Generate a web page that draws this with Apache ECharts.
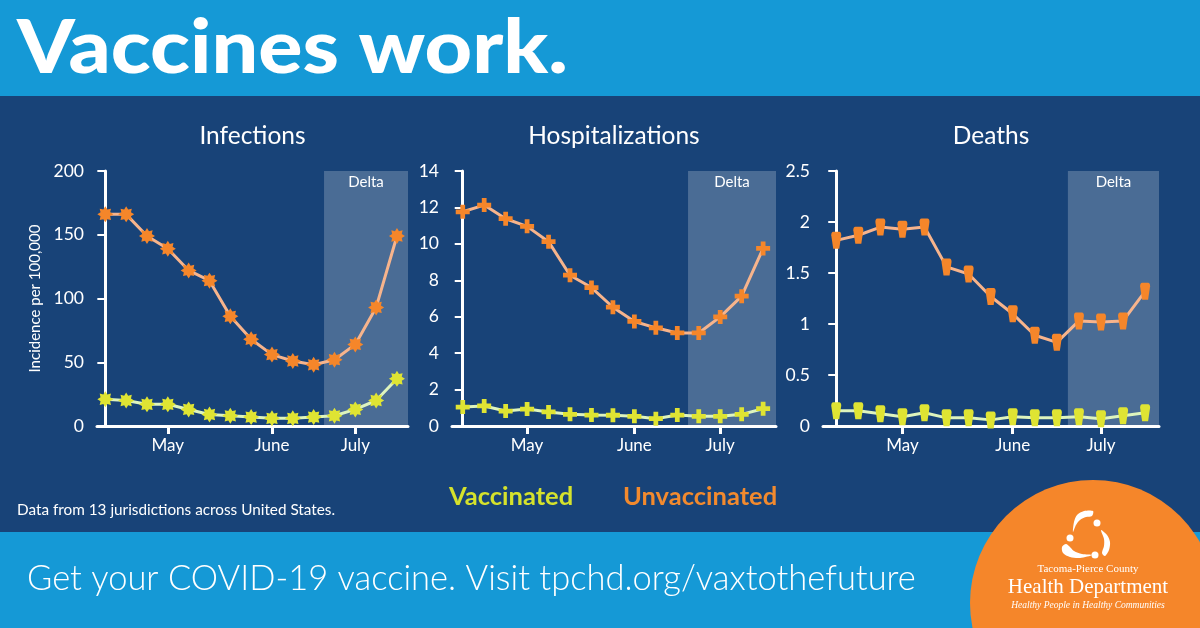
<!DOCTYPE html>
<html>
<head>
<meta charset="utf-8">
<script src="https://cdn.jsdelivr.net/npm/echarts@6/dist/echarts.min.js"></script>
<style>
* {margin: 0; padding: 0;}
#main {width: 1200px; height: 628px;}
</style>
</head>
<body>
<div id="main"></div>
<script>
// weekly points, Apr - mid Jul 2021
const WEEKS = [0, 1, 2, 3, 4, 5, 6, 7, 8, 9, 10, 11, 12, 13, 14];
const MONTH_TICKS = [3, 8, 12];
const MONTH_LABELS = ['May', 'June', 'July'];
const DELTA_FROM = 10.5;

const INFECT_VAX = [21, 20, 17, 17, 13, 9, 8, 7, 6, 6, 7, 8, 13, 20, 37];
const INFECT_UNVAX = [166, 166, 149, 139, 122, 114, 86, 68, 56, 51, 48, 52, 64, 93, 149];

const HOSP_VAX = [1.04, 1.1, 0.82, 0.93, 0.77, 0.64, 0.6, 0.59, 0.53, 0.4, 0.6, 0.53, 0.53, 0.64, 0.95];
const HOSP_UNVAX = [11.76, 12.13, 11.38, 10.96, 10.12, 8.28, 7.6, 6.52, 5.74, 5.39, 5.11, 5.11, 5.99, 7.13, 9.75];

const DEATH_VAX = [0.15, 0.15, 0.12, 0.09, 0.13, 0.08, 0.08, 0.06, 0.09, 0.08, 0.08, 0.09, 0.07, 0.1, 0.13];
const DEATH_UNVAX = [1.82, 1.87, 1.95, 1.93, 1.95, 1.56, 1.49, 1.27, 1.1, 0.89, 0.82, 1.03, 1.02, 1.03, 1.32];

const FONT = 'Lato, "Open Sans", sans-serif';
const SERIF = '"Liberation Serif", serif';
const LIGHT_BLUE = '#1599d6';
const DARK_BLUE = '#184378';
const ORANGE = '#f5862a';
const YELLOW = '#dfe433';

// spiky ball for the infections markers
function virusPath() {
    const pts = [];
    for (let i = 0; i < 16; i++) {
        const a = i * Math.PI / 8;
        const r = i % 2 ? 6.5 : 10;
        pts.push((10 + r * Math.cos(a)).toFixed(2) + ',' + (10 + r * Math.sin(a)).toFixed(2));
    }
    return 'path://M' + pts.join('L') + 'Z';
}
const CROSS = 'path://M3.3,0H6.7V3.3H10V6.7H6.7V10H3.3V6.7H0V3.3H3.3Z';
const COFFIN = 'path://M2,0H8Q10,0 10,3.5L8,17H2L0,3.5Q0,0 2,0Z';

const panels = [
    {title: 'Infections', left: 97, width: 311, xMin: -0.4, xMax: 14.53, yMax: 200, step: 50,
        vax: INFECT_VAX, unvax: INFECT_UNVAX, symbol: virusPath(), size: 16, yName: 'Incidence per 100,000'},
    {title: 'Hospitalizations', left: 452, width: 324, xMin: -0.5, xMax: 14.6, yMax: 14, step: 2,
        vax: HOSP_VAX, unvax: HOSP_UNVAX, symbol: CROSS, size: 14, yName: ''},
    {title: 'Deaths', left: 823, width: 336, xMin: -0.6, xMax: 14.63, yMax: 2.5, step: 0.5,
        vax: DEATH_VAX, unvax: DEATH_UNVAX, symbol: COFFIN, size: [10, 17], yName: ''}
];

const TOP = 171;
const HEIGHT = 255;

const grid = [];
const xAxis = [];
const yAxis = [];
const series = [];
const graphic = [
    {type: 'rect', shape: {x: 0, y: 0, width: 1200, height: 96}, style: {fill: LIGHT_BLUE}},
    {type: 'rect', shape: {x: 0, y: 96, width: 1200, height: 436}, style: {fill: DARK_BLUE}},
    {type: 'rect', shape: {x: 0, y: 532, width: 1200, height: 96}, style: {fill: LIGHT_BLUE}},
    {type: 'text', x: 17, y: 49, scaleX: 1.115,
        style: {text: 'Vaccines work.', fill: '#fff', font: '900 74px ' + FONT, textVerticalAlign: 'middle'}}
];

panels.forEach((p, i) => {
    grid.push({left: p.left, top: TOP, width: p.width, height: HEIGHT});
    xAxis.push({
        gridIndex: i,
        type: 'value',
        min: p.xMin,
        max: p.xMax,
        axisLine: {show: true, onZero: false, lineStyle: {color: '#fff', width: 3}},
        axisTick: {show: true, customValues: MONTH_TICKS, length: 8, lineStyle: {color: '#fff', width: 3}},
        axisLabel: {
            customValues: MONTH_TICKS,
            color: '#fff',
            fontSize: 17,
            fontFamily: FONT,
            margin: 11,
            formatter: v => MONTH_LABELS[MONTH_TICKS.indexOf(v)] || ''
        },
        splitLine: {show: false}
    });
    yAxis.push({
        gridIndex: i,
        type: 'value',
        min: 0,
        max: p.yMax,
        interval: p.step,
        name: p.yName,
        nameLocation: 'middle',
        nameGap: 54,
        nameTextStyle: {color: '#fff', fontSize: 15, fontFamily: FONT},
        axisLine: {show: true, lineStyle: {color: '#fff', width: 3}},
        axisTick: {show: true, length: 8, lineStyle: {color: '#fff', width: 2}},
        axisLabel: {color: '#fff', fontSize: 17.5, fontFamily: FONT, margin: 13},
        splitLine: {show: false}
    });

    series.push({
        type: 'line',
        xAxisIndex: i,
        yAxisIndex: i,
        z: 3,
        data: WEEKS.map((w, k) => [w, p.unvax[k]]),
        symbol: p.symbol,
        symbolSize: p.size,
        lineStyle: {color: '#f7b48c', width: 3},
        itemStyle: {color: ORANGE},
        silent: true
    });
    series.push({
        type: 'line',
        xAxisIndex: i,
        yAxisIndex: i,
        z: 3,
        data: WEEKS.map((w, k) => [w, p.vax[k]]),
        symbol: p.symbol,
        symbolSize: p.size,
        lineStyle: {color: '#def4bd', width: 3},
        itemStyle: {color: YELLOW},
        silent: true
    });
    // Delta period band, laid over the lines
    series.push({
        type: 'line',
        xAxisIndex: i,
        yAxisIndex: i,
        z: 5,
        data: [],
        markArea: {
            silent: true,
            itemStyle: {color: 'rgba(255,255,255,0.22)'},
            label: {show: true, position: 'insideTop', distance: 4, color: '#fff', fontSize: 15, fontFamily: FONT},
            data: [[{name: 'Delta', xAxis: DELTA_FROM, yAxis: 0}, {xAxis: p.xMax, yAxis: p.yMax}]]
        }
    });

    graphic.push({
        type: 'text',
        x: p.left + p.width / 2,
        y: 136,
        style: {text: p.title, fill: '#fff', font: '24.5px ' + FONT, textAlign: 'center', textVerticalAlign: 'middle'}
    });
});

const swoosh = {fill: '#fff'};
graphic.push(
    {type: 'text', x: 17, y: 510, style: {text: 'Data from 13 jurisdictions across United States.', fill: '#fff', font: '15.3px ' + FONT, textVerticalAlign: 'middle'}},
    {type: 'text', x: 449, y: 497, style: {text: 'Vaccinated', fill: '#d5e22c', font: 'bold 25.5px ' + FONT, textVerticalAlign: 'middle'}},
    {type: 'text', x: 623, y: 497, style: {text: 'Unvaccinated', fill: '#f28a2e', font: 'bold 25.5px ' + FONT, textVerticalAlign: 'middle'}},
    {type: 'text', x: 27, y: 579,
        style: {text: 'Get your COVID-19 vaccine. Visit tpchd.org/vaxtothefuture', fill: '#fff', font: '300 34.5px ' + FONT, textVerticalAlign: 'middle'}},
    // logo
    {type: 'circle', shape: {cx: 1093, cy: 603, r: 123}, style: {fill: '#f5862a'}},
    {type: 'polygon', shape: {smooth: 0.3, points: [[1093, 511], [1084, 511], [1077, 515], [1074, 522], [1073, 532], [1076, 525], [1080, 520], [1086, 517], [1092, 516]]}, style: swoosh},
    {type: 'polygon', shape: {smooth: 0.3, points: [[1101, 530], [1107, 535], [1110, 542], [1109, 550], [1105, 556], [1102, 553], [1104, 546], [1104, 539]]}, style: swoosh},
    {type: 'polygon', shape: {smooth: 0.3, points: [[1062, 547], [1063, 553], [1070, 557], [1080, 558], [1092, 555], [1082, 554], [1074, 551], [1069, 546], [1066, 544]]}, style: swoosh},
    {type: 'circle', shape: {cx: 1097, cy: 523, r: 3.5}, style: {fill: '#fff'}},
    {type: 'circle', shape: {cx: 1070, cy: 538, r: 3.5}, style: {fill: '#fff'}},
    {type: 'circle', shape: {cx: 1095, cy: 555, r: 3.5}, style: {fill: '#fff'}},
    {type: 'text', x: 1088, y: 569, style: {text: 'Tacoma-Pierce County', fill: '#fff', font: '11px ' + SERIF, textAlign: 'center', textVerticalAlign: 'middle'}},
    {type: 'text', x: 1088, y: 587, style: {text: 'Health Department', fill: '#fff', font: '21px ' + SERIF, textAlign: 'center', textVerticalAlign: 'middle'}},
    {type: 'text', x: 1088, y: 605, style: {text: 'Healthy People in Healthy Communities', fill: '#fff', font: 'italic 9.5px ' + SERIF, textAlign: 'center', textVerticalAlign: 'middle'}}
);

const chart = echarts.init(document.getElementById('main'));
chart.setOption({
    animation: false,
    graphic: {elements: graphic},
    grid,
    xAxis,
    yAxis,
    series
});
</script>
</body>
</html>
